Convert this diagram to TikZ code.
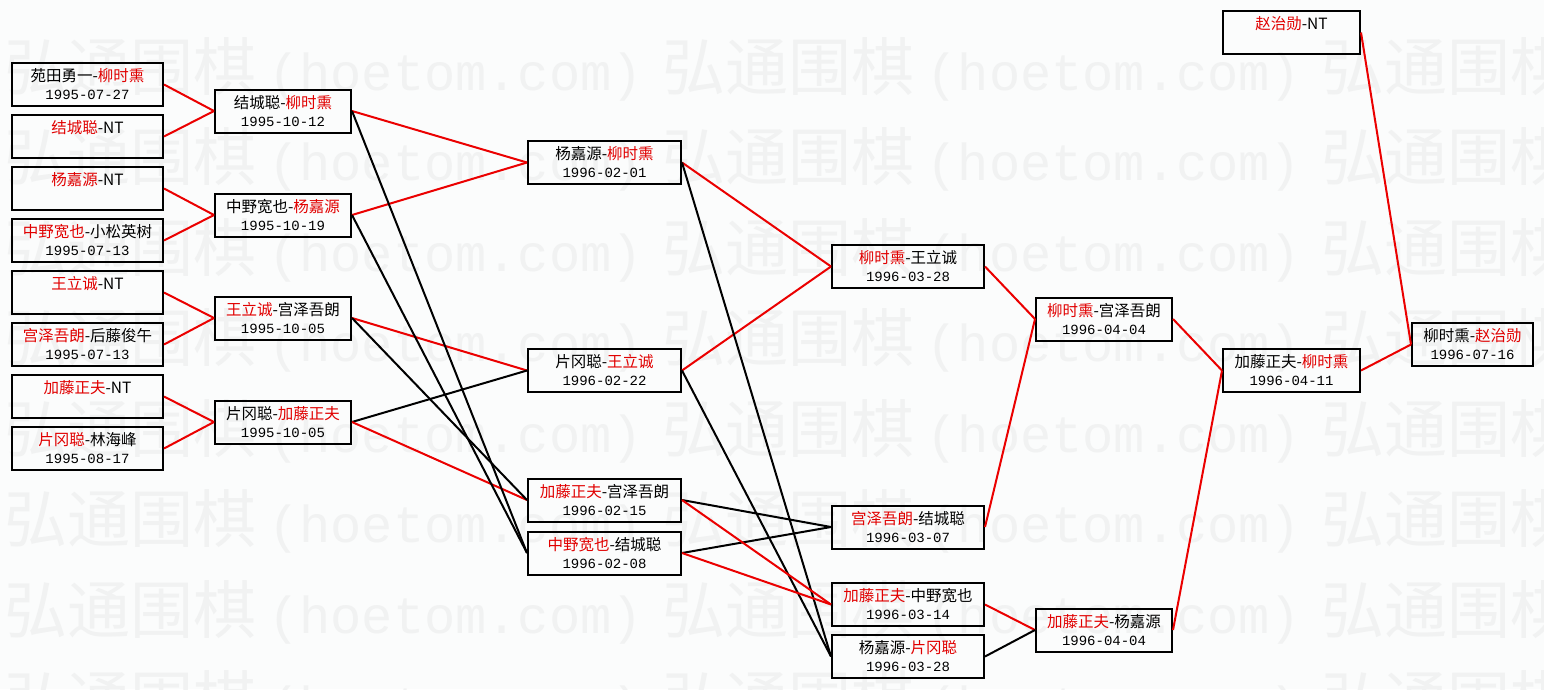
\documentclass[tikz,border=0pt]{standalone}
\usepackage{fontspec}
\setmainfont{Noto Sans CJK SC}
\newfontfamily\datefont{Liberation Mono}
\newfontfamily\wmlatin{Liberation Mono}
\definecolor{nred}{RGB}{225,0,0}
\definecolor{lred}{RGB}{235,0,0}
\definecolor{wmgray}{RGB}{241,242,242}
\definecolor{bgc}{RGB}{251,252,252}
\newcommand\R[1]{\textcolor{nred}{#1}}
\newcommand\D[1]{{\datefont\fontsize{14}{18}\selectfont #1}}
\newcommand\WMunit{{\fontsize{63}{70}\selectfont 弘通围棋}\hspace{12pt}{\wmlatin\fontsize{52}{60}\selectfont (hoetom.com)}\hspace{20pt}}
\begin{document}
\begin{tikzpicture}[x=1pt,y=-1pt,
  box/.style={draw=black, line width=2pt, rectangle, inner sep=0pt, align=center,
    font=\fontsize{15.5}{18}\selectfont, text height=35.6pt, text depth=5.4pt, minimum height=43pt},
  ca/.style={box, minimum width=151pt},
  cb/.style={box, minimum width=136pt},
  cc/.style={box, minimum width=153pt},
  cd/.style={box, minimum width=152pt},
  ce/.style={box, minimum width=136pt},
  cf/.style={box, minimum width=137pt},
  cg/.style={box, minimum width=121pt},
  win/.style={draw=lred, line width=2pt},
  lose/.style={draw=black, line width=2pt},
  wm/.style={anchor=base west, inner sep=0pt, text=wmgray}]
\useasboundingbox (0,0) rectangle (1544,689);
\fill[bgc] (0,0) rectangle (1544,689);
% watermark
\foreach \i/\yy in {1/90,2/180,3/271,4/361,5/452,6/542,7/633,8/723}{
  \node[wm] (wm\i) at (4,\yy) {\WMunit\WMunit\WMunit};
}
% column A
\node[ca] (A1) at (87.5,84.5) {苑田勇一-\R{柳时熏}\\\D{1995-07-27}};
\node[ca] (A2) at (87.5,136.5) {\R{结城聪}-NT\\\strut};
\node[ca] (A3) at (87.5,188.5) {\R{杨嘉源}-NT\\\strut};
\node[ca] (A4) at (87.5,240.5) {\R{中野宽也}-小松英树\\\D{1995-07-13}};
\node[ca] (A5) at (87.5,292.5) {\R{王立诚}-NT\\\strut};
\node[ca] (A6) at (87.5,344.5) {\R{宫泽吾朗}-后藤俊午\\\D{1995-07-13}};
\node[ca] (A7) at (87.5,396.5) {\R{加藤正夫}-NT\\\strut};
\node[ca] (A8) at (87.5,448.5) {\R{片冈聪}-林海峰\\\D{1995-08-17}};
% column B
\node[cb] (B1) at (283,111) {结城聪-\R{柳时熏}\\\D{1995-10-12}};
\node[cb] (B2) at (283,215) {中野宽也-\R{杨嘉源}\\\D{1995-10-19}};
\node[cb] (B3) at (283,318) {\R{王立诚}-宫泽吾朗\\\D{1995-10-05}};
\node[cb] (B4) at (283,422) {片冈聪-\R{加藤正夫}\\\D{1995-10-05}};
% column C
\node[cc] (C1) at (604.5,162.5) {杨嘉源-\R{柳时熏}\\\D{1996-02-01}};
\node[cc] (C2) at (604.5,370.5) {片冈聪-\R{王立诚}\\\D{1996-02-22}};
\node[cc] (C3) at (604.5,500) {\R{加藤正夫}-宫泽吾朗\\\D{1996-02-15}};
\node[cc] (C4) at (604.5,553) {\R{中野宽也}-结城聪\\\D{1996-02-08}};
% column D
\node[cd] (D1) at (908,266.5) {\R{柳时熏}-王立诚\\\D{1996-03-28}};
\node[cd] (D2) at (908,527) {\R{宫泽吾朗}-结城聪\\\D{1996-03-07}};
\node[cd] (D3) at (908,604.5) {\R{加藤正夫}-中野宽也\\\D{1996-03-14}};
\node[cd] (D4) at (908,656.5) {杨嘉源-\R{片冈聪}\\\D{1996-03-28}};
% column E
\node[ce] (E1) at (1104,319) {\R{柳时熏}-宫泽吾朗\\\D{1996-04-04}};
\node[ce] (E2) at (1104,630) {\R{加藤正夫}-杨嘉源\\\D{1996-04-04}};
% column F
\node[cf] (F0) at (1291.5,32.5) {\R{赵治勋}-NT\\\strut};
\node[cf] (F1) at (1291.5,370.5) {加藤正夫-\R{柳时熏}\\\D{1996-04-11}};
% column G
\node[cg] (G1) at (1472.5,344.5) {柳时熏-\R{赵治勋}\\\D{1996-07-16}};
% connectors A -> B
\draw[win] (A1.east) -- (B1.west);
\draw[win] (A2.east) -- (B1.west);
\draw[win] (A3.east) -- (B2.west);
\draw[win] (A4.east) -- (B2.west);
\draw[win] (A5.east) -- (B3.west);
\draw[win] (A6.east) -- (B3.west);
\draw[win] (A7.east) -- (B4.west);
\draw[win] (A8.east) -- (B4.west);
% B -> C
\draw[win] (B1.east) -- (C1.west);
\draw[win] (B2.east) -- (C1.west);
\draw[win] (B3.east) -- (C2.west);
\draw[lose] (B4.east) -- (C2.west);
\draw[win] (B4.east) -- (C3.west);
\draw[lose] (B3.east) -- (C3.west);
\draw[lose] (B1.east) -- (C4.west);
\draw[lose] (B2.east) -- (C4.west);
% C -> D
\draw[win] (C1.east) -- (D1.west);
\draw[win] (C2.east) -- (D1.west);
\draw[lose] (C1.east) -- (D4.west);
\draw[lose] (C2.east) -- (D4.west);
\draw[lose] (C3.east) -- (D2.west);
\draw[lose] (C4.east) -- (D2.west);
\draw[win] (C3.east) -- (D3.west);
\draw[win] (C4.east) -- (D3.west);
% D -> E
\draw[win] (D1.east) -- (E1.west);
\draw[win] (D2.east) -- (E1.west);
\draw[win] (D3.east) -- (E2.west);
\draw[lose] (D4.east) -- (E2.west);
% E -> F
\draw[win] (E1.east) -- (F1.west);
\draw[win] (E2.east) -- (F1.west);
% F -> G
\draw[win] (F1.east) -- (G1.west);
\draw[win] (F0.east) -- (G1.west);
\end{tikzpicture}
\end{document}
